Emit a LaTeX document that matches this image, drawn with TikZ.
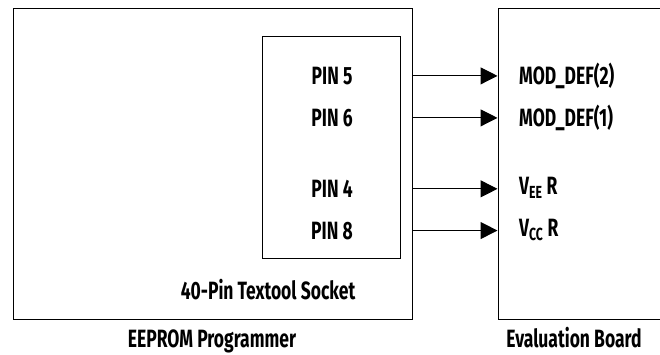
\documentclass[tikz,border=0pt]{standalone}
\usepackage{fontspec}
\setmainfont{Fira Sans}[FakeStretch=0.7]
\usetikzlibrary{arrows.meta}
\tikzset{
  box/.style={draw, line width=1pt, inner sep=0pt},
  lbl/.style={font=\bfseries\fontsize{25}{27}\selectfont, inner sep=0pt, anchor=base},
  sig/.style={-{Triangle[length=17pt,width=17pt]}, line width=1pt}
}
\begin{document}
\begin{tikzpicture}[x=1pt,y=-1pt]
  \clip (0,0) rectangle (660,355);
  % blocks
  \node[box, minimum width=399pt, minimum height=311pt] (prog) at (212.5,164.3) {};
  \node[box, minimum width=138pt, minimum height=222pt] (socket) at (331,147.4) {};
  \node[box, minimum width=210pt, minimum height=311pt] (eval) at (603,164.3) {};
  % pins
  \node[lbl] (p5) at (332,84.5) {PIN 5};
  \node[lbl] (p6) at (332,126.5) {PIN 6};
  \node[lbl] (p4) at (332,197.5) {PIN 4};
  \node[lbl] (p8) at (332,239) {PIN 8};
  % signals
  \node[lbl, anchor=base west] (md2) at (519,84.5) {MOD\_DEF(2)};
  \node[lbl, anchor=base west] (md1) at (519,126.5) {MOD\_DEF(1)};
  \node[lbl, anchor=base west] (vee) at (519,195) {V\textsubscript{EE}\,R};
  \node[lbl, anchor=base west] (vcc) at (519,236.5) {V\textsubscript{CC}\,R};
  % captions
  \node[lbl] (soc) at (268,299) {40-Pin Textool Socket};
  \node[lbl] (progname) at (212,347) {EEPROM Programmer};
  \node[lbl] (evalname) at (574,347) {Evaluation Board};
  % connections
  \draw[sig] (prog.east |- md2.west) -- (eval.west |- md2.west);
  \draw[sig] (prog.east |- md1.west) -- (eval.west |- md1.west);
  \draw[sig] (prog.east |- p4) -- (eval.west |- p4);
  \draw[sig] (prog.east |- p8) -- (eval.west |- p8);
\end{tikzpicture}
\end{document}
